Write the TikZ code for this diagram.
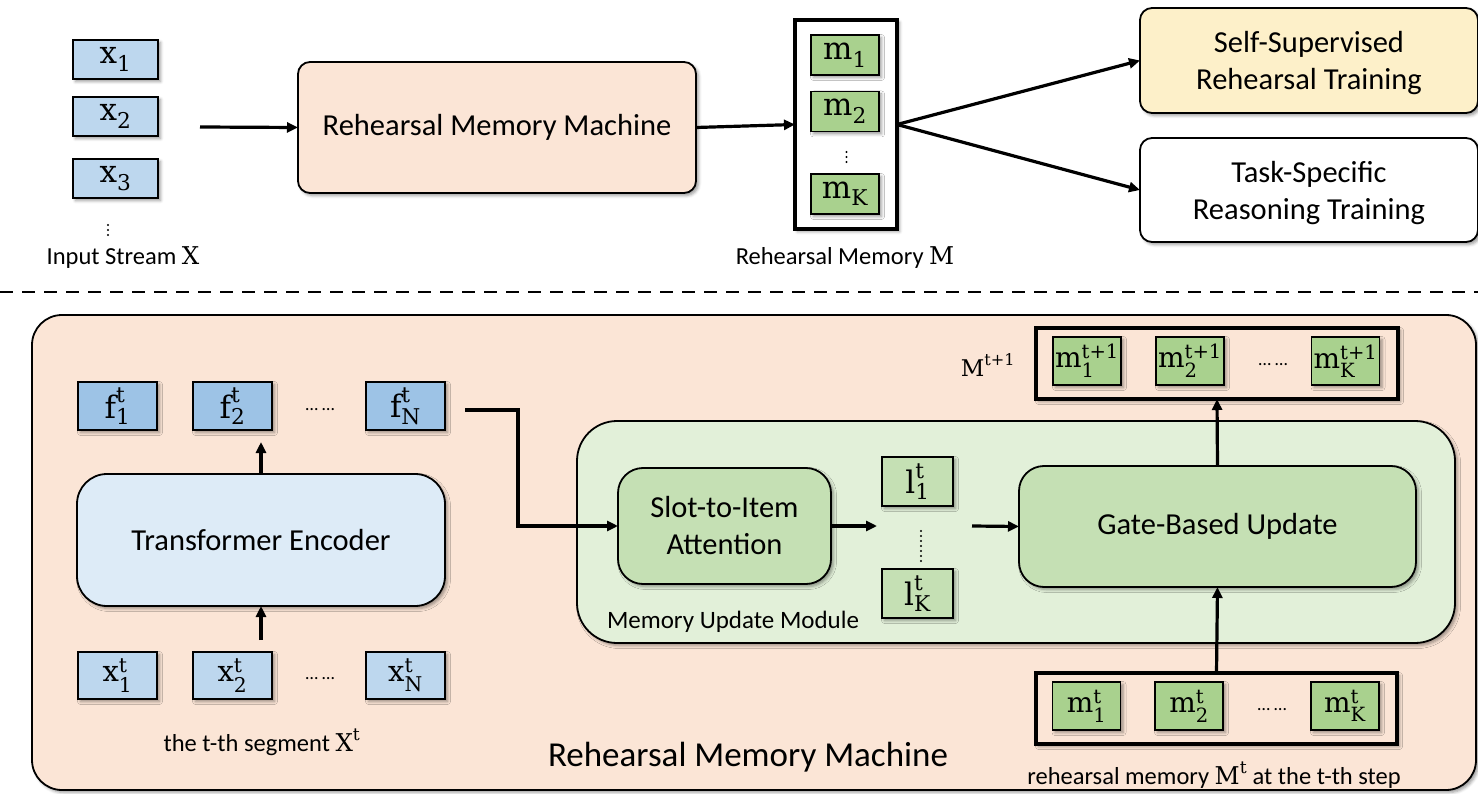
\documentclass[tikz,border=0pt]{standalone}
\usepackage{amsmath}
\usepackage{fontspec}
\setmainfont{Carlito}
\newfontfamily\mth{DejaVu Serif}
\usetikzlibrary{arrows.meta,shadows.blur}

% upright serif symbols for the variable names
\newcommand\mv[1]{\text{\mth #1}}

\definecolor{cPeach}{HTML}{FBE5D6}
\definecolor{cYellow}{HTML}{FDF0C9}
\definecolor{xBlue}{HTML}{BDD7EE}
\definecolor{fBlue}{HTML}{9DC3E6}
\definecolor{teBlue}{HTML}{DDEBF7}
\definecolor{mGreen}{HTML}{A9D18E}
\definecolor{lGreen}{HTML}{C5E0B4}
\definecolor{mumGreen}{HTML}{E2F0D9}

\begin{document}
\begin{tikzpicture}[x=1pt,y=-1pt,
  every node/.style={inner sep=0pt,outer sep=0pt},
  shd/.style={blur shadow={shadow xshift=2.5pt,shadow yshift=-2.5pt,shadow blur radius=3pt,shadow opacity=40}},
  cell/.style={draw,line width=1.8pt,shd,font=\fontsize{31}{34}\selectfont},
  xcell/.style={cell,fill=xBlue,minimum width=85pt,minimum height=39pt},
  fcell/.style={cell,fill=fBlue,minimum width=79pt,minimum height=48pt},
  tcell/.style={cell,fill=xBlue,minimum width=79pt,minimum height=47pt,font=\fontsize{29}{32}\selectfont},
  mcell/.style={cell,fill=mGreen,minimum width=68pt,minimum height=40pt},
  mtcell/.style={cell,fill=mGreen,minimum width=68pt,minimum height=48pt,font=\fontsize{28}{31}\selectfont},
  lcell/.style={cell,fill=lGreen,minimum width=71pt,minimum height=49pt},
  holder/.style={draw,line width=3.5pt,shd},
  block/.style={draw,line width=1.8pt,shd,align=center,font=\fontsize{30.5}{37}\selectfont},
  lbl/.style={font=\fontsize{24.5}{28}\selectfont},
  hdots/.style={font=\fontsize{18}{20}\selectfont},
  vdotline/.style={line width=2.2pt,line cap=round,dash pattern=on 0pt off 5pt},
  arr/.style={line width=3.2pt,-{Triangle[length=11pt,width=10pt]}}
]
\useasboundingbox (0,0) rectangle (1478,794);
\clip (0,0) rectangle (1478,794);

% ---------- overview ----------
\node[xcell] (x1) at (115.5,59.5) {$\mv{x}_{\mv{1}}$};
\node[xcell] (x2) at (115.5,116.5) {$\mv{x}_{\mv{2}}$};
\node[xcell] (x3) at (115.5,178.5) {$\mv{x}_{\mv{3}}$};
\draw[vdotline] (108,225) -- (108,236);
\node[lbl] (inlbl) at (123,258) {Input Stream $\mv{X}$};

\node[block,fill=cPeach,rounded corners=12pt,minimum width=398pt,minimum height=131pt]
  (rmm) at (497,127.5) {Rehearsal Memory Machine};

\node[holder,fill=white,minimum width=102pt,minimum height=209pt] (mem) at (846,124.5) {};
\node[mcell] (m1) at (845,55) {$\mv{m}_{\mv{1}}$};
\node[mcell] (m2) at (845,111.5) {$\mv{m}_{\mv{2}}$};
\node[mcell] (mK) at (845,194) {$\mv{m}_{\mv{K}}$};
\draw[vdotline] (846.5,152) -- (846.5,164);
\node[lbl] (memlbl) at (845,258) {Rehearsal Memory $\mv{M}$};

\node[block,fill=cYellow,rounded corners=12pt,minimum width=338pt,minimum height=105pt,text depth=0pt]
  (ss) at (1309,60.5) {Self-Supervised\\Rehearsal Training};
\node[block,fill=white,rounded corners=12pt,minimum width=338pt,minimum height=104pt,text depth=0pt]
  (ts) at (1309,190) {Task-Specific\\Reasoning Training};

\coordinate (inarr) at (200,127);
\draw[arr] (inarr) -- (rmm.west);
\draw[arr] (rmm.east) -- (mem.west);
\draw[arr] (mem.east) -- (ss.west);
\draw[arr] (mem.east) -- (ts.west);

% separator
\draw[line width=2.8pt,dash pattern=on 13pt off 9pt] (0,292) -- (1478,292);

% ---------- machine detail ----------
\node[draw,line width=1.8pt,fill=cPeach,rounded corners=30pt,shd,
  minimum width=1444pt,minimum height=475pt] (big) at (754,552.5) {};
\node[font=\fontsize{35}{40}\selectfont] (biglbl) at (748,757) {Rehearsal Memory Machine};

\node[fcell] (f1) at (117.5,406) {$\mv{f}_{\mv{1}}^{\mv{t}}$};
\node[fcell] (f2) at (232.5,406) {$\mv{f}_{\mv{2}}^{\mv{t}}$};
\node[fcell] (fN) at (405.5,406) {$\mv{f}_{\mv{N}}^{\mv{t}}$};
\node[hdots] (fd) at (320,410) {… …};

\node[block,fill=teBlue,rounded corners=30pt,minimum width=368pt,minimum height=132pt]
  (te) at (261,540) {Transformer Encoder};

\node[tcell] (xt1) at (117.5,675.5) {$\mv{x}^{\mv{t}}_{\mv{1}}$};
\node[tcell] (xt2) at (232.5,675.5) {$\mv{x}^{\mv{t}}_{\mv{2}}$};
\node[tcell] (xtN) at (405.5,675.5) {$\mv{x}^{\mv{t}}_{\mv{N}}$};
\node[hdots] (xtd) at (320,679) {… …};
\node[lbl] (seglbl) at (262,742) {the t-th segment $\mv{X}^{\mv{t}}$};

\coordinate (fup) at (261,442);
\coordinate (xup) at (261,640);
\draw[arr] (te.north) -- (fup);
\draw[arr] (xup) -- (te.south);

\node[draw,line width=1.8pt,fill=mumGreen,rounded corners=40pt,shd,
  minimum width=878pt,minimum height=222pt] (mum) at (1016,532) {};
\node[anchor=west,font=\fontsize{25}{28}\selectfont] (mumlbl) at (607,622) {Memory Update Module};

\node[block,fill=lGreen,rounded corners=25pt,minimum width=213pt,minimum height=116pt]
  (slot) at (724.5,526) {Slot-to-Item\\Attention};
\node[lcell] (l1) at (917.5,481.5) {$\mv{l}_{\mv{1}}^{\mv{t}}$};
\node[lcell] (lK) at (917.5,593.5) {$\mv{l}_{\mv{K}}^{\mv{t}}$};
\draw[vdotline] (921,531) -- (921,561);

\node[block,fill=lGreen,rounded corners=25pt,minimum width=397pt,minimum height=121pt]
  (gate) at (1217.5,526.5) {Gate-Based Update};

\coordinate (fa) at (465,410);
\coordinate (kink) at (518,410);
\draw[arr] (fa) -- (kink) |- (slot.west);
\coordinate (la) at (877,526);
\coordinate (lb) at (972,526);
\draw[arr] (slot.east) -- (la);
\draw[arr] (lb) -- (gate.west);

% next memory state
\node[holder,fill=cPeach,minimum width=362pt,minimum height=71pt] (mt1) at (1217,363.5) {};
\node[mtcell] (n1) at (1087,361) {$\mv{m}_{\mv{1}}^{\mv{t+1}}$};
\node[mtcell] (n2) at (1190,361) {$\mv{m}_{\mv{2}}^{\mv{t+1}}$};
\node[mtcell] (nK) at (1345.5,361) {$\mv{m}_{\mv{K}}^{\mv{t+1}}$};
\node[hdots] (nd) at (1273,365) {… …};
\node[lbl,font=\fontsize{23}{26}\selectfont] (mt1lbl) at (988,365) {$\mv{M}^{\mv{t+1}}$};

% current memory state
\node[holder,fill=cPeach,minimum width=361pt,minimum height=71pt] (mt) at (1216.5,708.5) {};
\node[mtcell] (c1) at (1086.5,706) {$\mv{m}_{\mv{1}}^{\mv{t}}$};
\node[mtcell] (c2) at (1189,706) {$\mv{m}_{\mv{2}}^{\mv{t}}$};
\node[mtcell] (cK) at (1345,706) {$\mv{m}_{\mv{K}}^{\mv{t}}$};
\node[hdots] (cd) at (1272,710) {… …};
\node[lbl] (mtlbl) at (1214,775) {rehearsal memory $\mv{M}^{\mv{t}}$ at the t-th step};

\draw[arr] (gate.north) -- (mt1.south);
\draw[arr] (mt.north) -- (gate.south);
\end{tikzpicture}
\end{document}
